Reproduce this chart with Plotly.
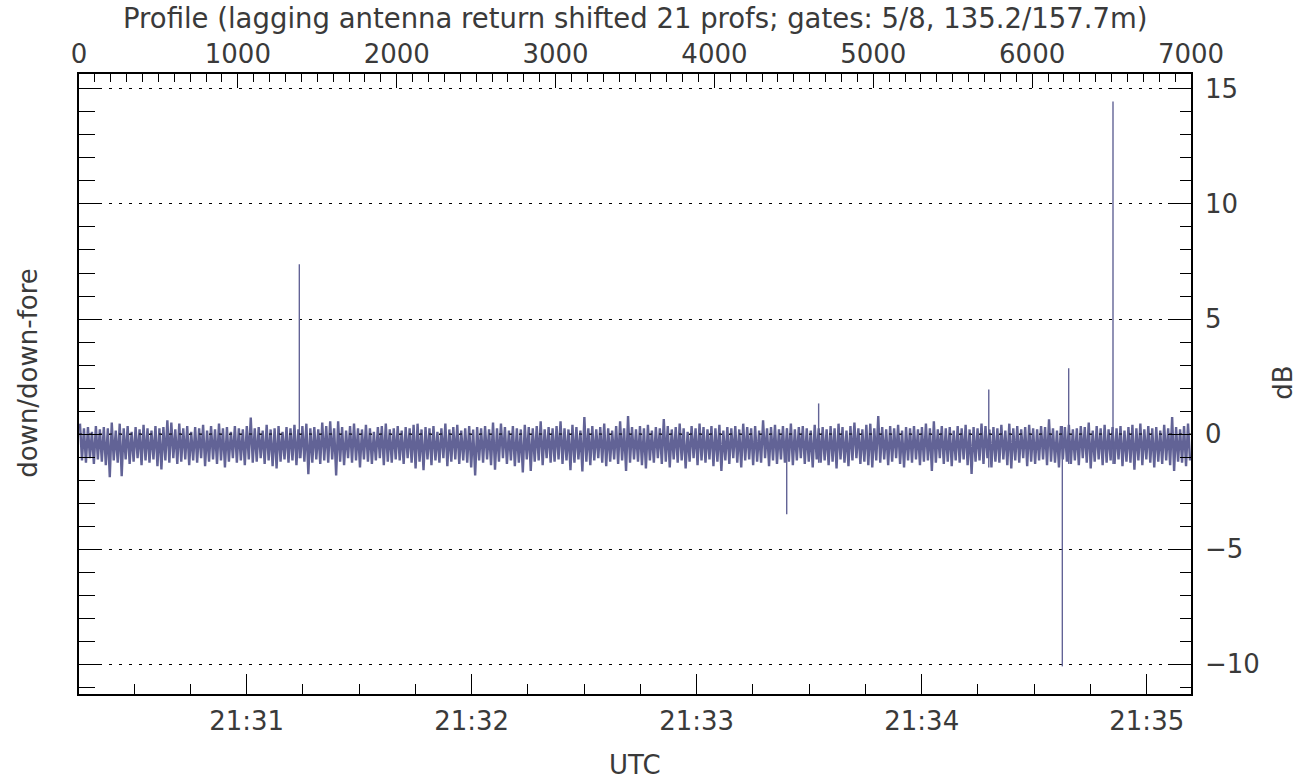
import plotly.graph_objects as go

# ---------------- data ----------------
# band envelope: highest / lowest value in each bin of 25 profiles (dB)
bin_width = 25
band_hi = [
    0.45, 0.25, 0.3, 0.1, 0.35, 0.2, 0.3, 0.25, 0.5, 0.15, 0.45, 0.25, 0.35, 0.1, 0.3, 0.2, 0.4, 0.25, 0.15, 0.35,
    0.25, 0.3, 0.6, 0.5, 0.2, 0.45, 0.25, 0.35, 0.1, 0.3, 0.25, 0.4, 0.15, 0.35, 0.2, 0.45, 0.25, 0.3, 0.1, 0.35,
    0.25, 0.2, 0.35, 0.72, 0.25, 0.3, 0.15, 0.4, 0.2, 0.25, 0.35, 0.1, 0.3, 0.25, 0.4, 0.2, 0.35, 0.45, 0.25, 0.3,
    0.2, 0.5, 0.35, 0.55, 0.25, 0.55, 0.3, 0.15, 0.35, 0.45, 0.25, 0.2, 0.4, 0.25, 0.1, 0.3, 0.35, 0.45, 0.2, 0.25,
    0.35, 0.15, 0.3, 0.25, 0.4, 0.45, 0.2, 0.3, 0.25, 0.35, 0.1, 0.25, 0.45, 0.2, 0.3, 0.4, 0.15, 0.25, 0.35, 0.2,
    0.3, 0.25, 0.35, 0.2, 0.5, 0.25, 0.45, 0.3, 0.15, 0.35, 0.25, 0.2, 0.4, 0.3, 0.25, 0.35, 0.55, 0.2, 0.3, 0.25,
    0.35, 0.55, 0.25, 0.2, 0.4, 0.3, 0.15, 0.74, 0.25, 0.35, 0.2, 0.3, 0.45, 0.25, 0.15, 0.35, 0.55, 0.25, 0.78, 0.3,
    0.2, 0.35, 0.25, 0.4, 0.15, 0.3, 0.25, 0.65, 0.35, 0.2, 0.3, 0.45, 0.25, 0.1, 0.35, 0.25, 0.45, 0.3, 0.2, 0.35,
    0.25, 0.4, 0.15, 0.3, 0.25, 0.35, 0.2, 0.45, 0.3, 0.25, 0.35, 0.15, 0.6, 0.25, 0.3, 0.4, 0.2, 0.35, 0.25, 0.45,
    0.2, 0.3, 0.35, 0.25, 0.15, 0.4, 0.25, 0.3, 0.2, 0.35, 0.25, 0.45, 0.3, 0.15, 0.35, 0.5, 0.25, 0.2, 0.4, 0.45,
    0.25, 0.78, 0.3, 0.2, 0.35, 0.25, 0.4, 0.15, 0.3, 0.25, 0.35, 0.2, 0.3, 0.45, 0.25, 0.55, 0.2, 0.35, 0.25, 0.3,
    0.15, 0.35, 0.25, 0.4, 0.2, 0.3, 0.25, 0.45, 0.35, 0.2, 0.3, 0.25, 0.4, 0.15, 0.45, 0.25, 0.35, 0.2, 0.3, 0.4,
    0.25, 0.2, 0.35, 0.3, 0.64, 0.25, 0.15, 0.35, 0.3, 0.4, 0.2, 0.25, 0.35, 0.3, 0.5, 0.15, 0.35, 0.25, 0.4, 0.2,
    0.3, 0.25, 0.35, 0.15, 0.3, 0.4, 0.25, 0.45, 0.2, 0.35, 0.25, 0.3, 0.15, 0.4, 0.25, 0.74, 0.3, 0.2, 0.35, 0.45,
]
band_lo = [
    -1.15, -1.25, -1.05, -1.3, -1.1, -1.2, -1.35, -1.88, -1.15, -1.25, -1.83, -1.1, -1.3, -1.2, -1.05, -1.35, -1.15, -1.25, -1.1, -1.4,
    -1.54, -1.15, -1.25, -1.05, -1.3, -1.2, -1.1, -1.35, -1.15, -1.25, -1.05, -1.4, -1.2, -1.1, -1.3, -1.15, -1.45, -1.2, -1.05, -1.25,
    -1.15, -1.35, -1.1, -1.25, -1.2, -1.05, -1.3, -1.15, -1.4, -1.5, -1.2, -1.1, -1.25, -1.15, -1.35, -1.05, -1.2, -1.75, -1.25, -1.1,
    -1.3, -1.15, -1.25, -1.1, -1.8, -1.2, -1.35, -1.05, -1.25, -1.15, -1.45, -1.1, -1.2, -1.3, -1.15, -1.05, -1.35, -1.2, -1.25, -1.1,
    -1.15, -1.3, -1.05, -1.25, -1.5, -1.2, -1.57, -1.1, -1.35, -1.15, -1.25, -1.05, -1.4, -1.2, -1.1, -1.3, -1.15, -1.25, -1.45, -1.8,
    -1.15, -1.25, -1.1, -1.35, -1.55, -1.2, -1.05, -1.3, -1.15, -1.4, -1.25, -1.67, -1.1, -1.6, -1.2, -1.15, -1.35, -1.05, -1.25, -1.2,
    -1.1, -1.3, -1.15, -1.57, -1.25, -1.1, -1.63, -1.2, -1.35, -1.15, -1.05, -1.25, -1.4, -1.2, -1.1, -1.3, -1.15, -1.6, -1.25, -1.1,
    -1.2, -1.35, -1.5, -1.15, -1.25, -1.05, -1.3, -1.2, -1.45, -1.1, -1.25, -1.15, -1.5, -1.2, -1.05, -1.35, -1.15, -1.25, -1.1, -1.4,
    -1.2, -1.6, -1.15, -1.3, -1.05, -1.25, -1.45, -1.15, -1.1, -1.35, -1.2, -1.25, -1.05, -1.4, -1.15, -1.3, -1.1, -1.25, -1.2, -1.35,
    -1.15, -1.05, -1.3, -1.2, -1.45, -1.1, -1.25, -1.15, -1.35, -1.2, -1.5, -1.1, -1.25, -1.4, -1.15, -1.05, -1.3, -1.2, -1.35, -1.45,
    -1.15, -1.25, -1.1, -1.35, -1.2, -1.05, -1.3, -1.45, -1.15, -1.25, -1.1, -1.35, -1.2, -1.15, -1.6, -1.25, -1.05, -1.3, -1.2, -1.4,
    -1.15, -1.25, -1.1, -1.35, -1.74, -1.2, -1.15, -1.3, -1.05, -1.45, -1.2, -1.25, -1.1, -1.35, -1.5, -1.15, -1.25, -1.05, -1.4, -1.2,
    -1.3, -1.15, -1.1, -1.35, -1.2, -1.25, -1.45, -1.1, -1.2, -1.3, -1.15, -1.35, -1.05, -1.25, -1.5, -1.2, -1.1, -1.35, -1.25, -1.15,
    -1.3, -1.1, -1.4, -1.2, -1.25, -1.55, -1.15, -1.35, -1.1, -1.25, -1.45, -1.2, -1.3, -1.15, -1.35, -1.6, -1.2, -1.25, -1.4, -1.15,
]
# isolated spikes (profile number, dB)
spike_prof = [1387, 4455, 4656, 5727, 6190, 6230, 6509]
spike_val = [7.38, -3.49, 1.33, 1.94, -10.1, 2.86, 14.45]

# axes
profile_range = [0, 7000]
time_start = "2024-01-01 21:30:15.3"
time_end = "2024-01-01 21:35:11.8"
time_tick0 = "2024-01-01 21:31:00"
db_range = [-11.3, 15.65]
db_ticks = [-10, -5, 0, 5, 10, 15]
db_ticktext = ["\u221210", "\u22125", "0", "5", "10", "15"]

title_top = "Profile (lagging antenna return shifted 21 profs; gates: 5/8, 135.2/157.7m)"
title_left = "down/down-fore"
title_right = "dB"
title_bottom = "UTC"

# ---------------- build the marks ----------------
band_x, band_y = [], []
for i, (h, l) in enumerate(zip(band_hi, band_lo)):
    band_x += [i * bin_width + bin_width * 0.25, i * bin_width + bin_width * 0.75]
    band_y += [h, l]

spk_x, spk_y = [], []
for p, v in zip(spike_prof, spike_val):
    b = min(int(p // bin_width), len(band_hi) - 1)
    base = band_lo[b] if v > 0 else band_hi[b]
    spk_x += [p, p, None]
    spk_y += [base, v, None]

FONT = "DejaVu Sans"
TXT = "#3a3a3a"
LINE = "rgb(98,99,150)"
FS = 26

fig = go.Figure()
fig.add_trace(go.Scatter(x=band_x, y=band_y, mode="lines", xaxis="x", yaxis="y",
                         line=dict(color=LINE, width=2.4), hoverinfo="skip",
                         showlegend=False))
fig.add_trace(go.Scatter(x=spk_x, y=spk_y, mode="lines", xaxis="x", yaxis="y",
                         line=dict(color=LINE, width=1.4), hoverinfo="skip",
                         showlegend=False))
# carriers so that the time axis and the right dB axis are drawn (no marks)
fig.add_trace(go.Scatter(x=[time_start, time_end], y=[None, None], mode="lines",
                         xaxis="x2", yaxis="y", hoverinfo="skip", showlegend=False))
fig.add_trace(go.Scatter(x=profile_range, y=[None, None], mode="lines",
                         xaxis="x", yaxis="y2", hoverinfo="skip", showlegend=False))

tick_font = dict(family=FONT, size=FS, color=TXT)

fig.update_layout(
    width=1310, height=780,
    margin=dict(l=79, r=119, t=74, b=86, pad=0),
    paper_bgcolor="white", plot_bgcolor="white",
    font=dict(family=FONT, size=FS, color=TXT),
    showlegend=False,
    xaxis=dict(
        range=profile_range, side="top", anchor="y",
        tickmode="linear", tick0=0, dtick=1000,
        ticks="inside", ticklen=14, tickwidth=1.2, tickcolor="black",
        minor=dict(dtick=100, tick0=0, ticks="inside", ticklen=8, tickwidth=1, tickcolor="black"),
        showline=True, linecolor="black", linewidth=1.5,
        showgrid=False, zeroline=False, ticklabelstandoff=-1,
        tickfont=tick_font,
    ),
    xaxis2=dict(
        type="date", range=[time_start, time_end], side="bottom",
        overlaying="x", anchor="y",
        tick0=time_tick0, dtick=60000, tickformat="%H:%M",
        ticks="inside", ticklen=20, tickwidth=1.2, tickcolor="black",
        minor=dict(dtick=15000, ticks="inside", ticklen=10, tickwidth=1, tickcolor="black"),
        showline=True, linecolor="black", linewidth=1.5,
        showgrid=False, zeroline=False, ticklabelstandoff=3,
        tickfont=tick_font,
    ),
    yaxis=dict(
        range=db_range, side="left",
        tickmode="array", tickvals=db_ticks, showticklabels=False,
        ticks="inside", ticklen=23, tickwidth=1.2, tickcolor="black",
        minor=dict(dtick=1, tick0=0, ticks="inside", ticklen=16, tickwidth=1, tickcolor="black"),
        showline=True, linecolor="black", linewidth=1.5,
        showgrid=True, gridcolor="black", gridwidth=1, griddash="3px,7px",
        zeroline=False,
    ),
    yaxis2=dict(
        range=db_range, side="right", overlaying="y", anchor="x",
        tickmode="array", tickvals=db_ticks, ticktext=db_ticktext,
        ticks="inside", ticklen=23, tickwidth=1.2, tickcolor="black",
        minor=dict(dtick=1, tick0=0, ticks="inside", ticklen=11, tickwidth=1, tickcolor="black"),
        showline=True, linecolor="black", linewidth=1.5,
        showgrid=False, zeroline=False, ticklabelstandoff=7,
        tickfont=tick_font,
    ),
    shapes=[
        dict(type="line", xref="paper", yref="y", x0=0, x1=1, y0=0, y1=0,
             line=dict(color="black", width=1, dash="3px,7px"), layer="above"),
    ],
    annotations=[
        dict(text=title_top, xref="paper", yref="paper", x=0.5, y=1.090,
             xanchor="center", yanchor="middle", showarrow=False,
             font=dict(family=FONT, size=27.5, color=TXT)),
        dict(text=title_bottom, xref="paper", yref="paper", x=0.5, y=-0.1145,
             xanchor="center", yanchor="middle", showarrow=False,
             font=dict(family=FONT, size=FS, color=TXT)),
        dict(text=title_left, xref="paper", yref="paper", x=-0.0459, y=0.518,
             xanchor="center", yanchor="middle", showarrow=False, textangle=-90,
             font=dict(family=FONT, size=FS, color=TXT)),
        dict(text=title_right, xref="paper", yref="paper", x=1.0827, y=0.502,
             xanchor="center", yanchor="middle", showarrow=False, textangle=-90,
             font=dict(family=FONT, size=FS, color=TXT)),
    ],
)

fig.write_html("out.html", config={"displayModeBar": False},
               post_script="document.body.style.margin='0';document.body.style.overflow='hidden';")
